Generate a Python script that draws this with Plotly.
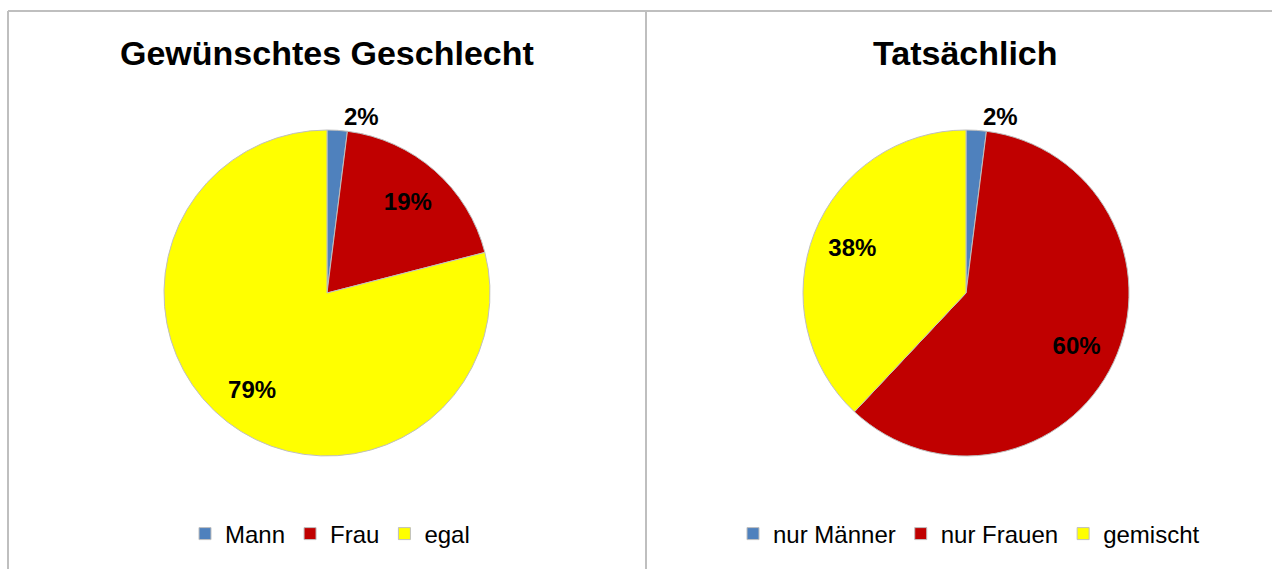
import plotly.graph_objects as go

# data
labels_left = ["Mann", "Frau", "egal"]
values_left = [2, 19, 79]
labels_right = ["nur Männer", "nur Frauen", "gemischt"]
values_right = [2, 60, 38]
slice_colors = ["#4f81bd", "#c00000", "#ffff00"]

W, H = 1272, 569
border = "#bfbfbf"
font_family = "Liberation Sans, Arial"


def px_x(v):
    return v / W


def px_y(v):
    return (H - v) / H


def add_pie(fig, labels, values, x0, x1, legend_name):
    domain = dict(x=[px_x(x0), px_x(x1)], y=[px_y(456), px_y(130)])
    # the slices themselves
    fig.add_trace(go.Pie(
        labels=labels, values=values,
        sort=False, direction="clockwise", rotation=0,
        marker=dict(colors=slice_colors, line=dict(color=border, width=1)),
        textinfo="none",
        domain=domain, legend=legend_name, hoverinfo="label+percent",
    ))
    # transparent ring on top, only used to put the labels further out
    fig.add_trace(go.Pie(
        labels=labels, values=values,
        sort=False, direction="clockwise", rotation=0, hole=0.5,
        marker=dict(colors=["rgba(0,0,0,0)"] * len(values), line=dict(width=0)),
        texttemplate="%{percent:.0%}",
        textposition=["outside", "inside", "inside"],
        insidetextorientation="horizontal",
        textfont=dict(family=font_family, size=24, color="black", weight="bold"),
        domain=domain, showlegend=False, hoverinfo="skip",
    ))


fig = go.Figure()
add_pie(fig, labels_left, values_left, 164, 490, "legend")
add_pie(fig, labels_right, values_right, 803, 1129, "legend2")

legend_style = dict(
    orientation="h", yanchor="middle", xanchor="center",
    font=dict(family=font_family, size=24, color="black"),
    itemwidth=30, bgcolor="rgba(0,0,0,0)", traceorder="normal",
)

title_font = dict(family=font_family, size=34, color="black")

fig.update_layout(
    width=W, height=H,
    margin=dict(l=0, r=0, t=0, b=0),
    paper_bgcolor="white", plot_bgcolor="white",
    showlegend=True,
    legend=dict(x=px_x(330), y=px_y(534), **legend_style),
    legend2=dict(x=px_x(969), y=px_y(534), **legend_style),
    annotations=[
        dict(text="<b>Gewünschtes Geschlecht</b>", x=px_x(327), y=px_y(53),
             xref="paper", yref="paper", xanchor="center", yanchor="middle",
             showarrow=False, font=title_font),
        dict(text="<b>Tatsächlich</b>", x=px_x(965), y=px_y(53),
             xref="paper", yref="paper", xanchor="center", yanchor="middle",
             showarrow=False, font=title_font),
    ],
    shapes=[
        dict(type="line", xref="paper", yref="paper", x0=px_x(8), x1=1, y0=px_y(11), y1=px_y(11),
             line=dict(color=border, width=2)),
        dict(type="line", xref="paper", yref="paper", x0=px_x(8), x1=px_x(8), y0=px_y(11), y1=0,
             line=dict(color=border, width=2)),
        dict(type="line", xref="paper", yref="paper", x0=px_x(646), x1=px_x(646), y0=px_y(11), y1=0,
             line=dict(color=border, width=2)),
    ],
)

fig.write_html("out.html", config={"displayModeBar": False},
               post_script="document.body.style.margin='0';")
